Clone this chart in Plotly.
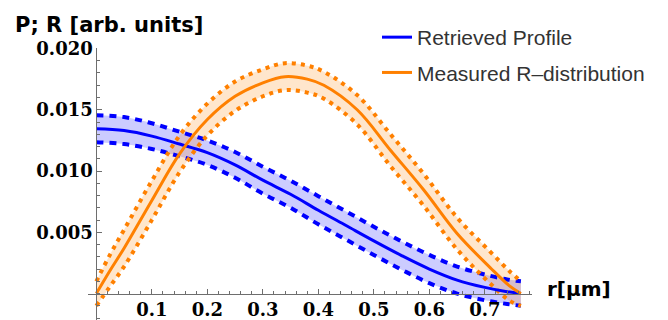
import plotly.graph_objects as go

# ---- data ----
r_blue = [0.0, 0.05, 0.10, 0.15, 0.20, 0.25, 0.30, 0.35, 0.40, 0.45, 0.50, 0.55, 0.60, 0.65, 0.70, 0.74, 0.765]
p_blue = [0.01345, 0.01330, 0.01285, 0.01220, 0.01150, 0.01050, 0.00925, 0.00810, 0.00680, 0.00555,
          0.00430, 0.00310, 0.00200, 0.00110, 0.00050, 0.00015, 0.0]
e_blue = [0.00110, 0.00110, 0.00105, 0.00100, 0.00100, 0.00105, 0.00110, 0.00110, 0.00115, 0.00115,
          0.00115, 0.00115, 0.00115, 0.00110, 0.00105, 0.00100, 0.00100]

r_orange = [0.0, 0.025, 0.05, 0.10, 0.15, 0.20, 0.25, 0.30, 0.34, 0.38, 0.41, 0.47, 0.53, 0.59, 0.65, 0.71, 0.745, 0.765]
p_orange = [0.0, 0.0019, 0.0037, 0.0076, 0.0114, 0.0142, 0.0161, 0.0172, 0.0177, 0.0175, 0.0170, 0.0150,
            0.0117, 0.00845, 0.0049, 0.0021, 0.0006, 0.0]
e_orange = [0.0010, 0.0013, 0.0015, 0.0016, 0.0015, 0.0013, 0.0012, 0.0011, 0.0011, 0.0011, 0.0011, 0.0012,
            0.0013, 0.0013, 0.0013, 0.0013, 0.0012, 0.0010]

x_ticks = [0.1, 0.2, 0.3, 0.4, 0.5, 0.6, 0.7]
x_tick_text = ["0.1", "0.2", "0.3", "0.4", "0.5", "0.6", "0.7"]
y_ticks = [0.005, 0.010, 0.015, 0.020]
y_tick_text = ["0.005", "0.010", "0.015", "0.020"]

series_names = ["Retrieved Profile", "Measured R\u2013distribution"]

BLUE = "rgb(0,0,255)"
ORANGE = "rgb(255,128,0)"
BLUE_FILL = "rgba(0,0,255,0.2)"
ORANGE_FILL = "rgba(255,128,0,0.2)"

fig = go.Figure()

def add_band(r, p, e, fill_col):
    lo = [a - b for a, b in zip(p, e)]
    hi = [a + b for a, b in zip(p, e)]
    fig.add_trace(go.Scatter(x=r, y=lo, mode="lines", line=dict(width=0, shape="spline"),
                             showlegend=False, hoverinfo="skip"))
    fig.add_trace(go.Scatter(x=r, y=hi, mode="lines", line=dict(width=0, shape="spline"),
                             fill="tonexty", fillcolor=fill_col, showlegend=False, hoverinfo="skip"))
    return lo, hi

lo_b, hi_b = add_band(r_blue, p_blue, e_blue, BLUE_FILL)
lo_o, hi_o = add_band(r_orange, p_orange, e_orange, ORANGE_FILL)

for yy in (lo_b, hi_b):
    fig.add_trace(go.Scatter(x=r_blue, y=yy, mode="lines",
                             line=dict(color=BLUE, width=4, dash="7px,6px", shape="spline"),
                             showlegend=False, hoverinfo="skip"))
for yy in (lo_o, hi_o):
    fig.add_trace(go.Scatter(x=r_orange, y=yy, mode="lines",
                             line=dict(color=ORANGE, width=4, dash="4px,5px", shape="spline"),
                             showlegend=False, hoverinfo="skip"))

fig.add_trace(go.Scatter(x=r_blue, y=p_blue, mode="lines", name=series_names[0],
                         line=dict(color=BLUE, width=3, shape="spline"), legendgroup="a"))
fig.add_trace(go.Scatter(x=r_orange, y=p_orange, mode="lines", name=series_names[1],
                         line=dict(color=ORANGE, width=3, shape="spline"), legendgroup="b"))

AX = "#6e6e6e"
tickfont = dict(family="DejaVu Serif", size=18, color="black", weight="bold")

ymin, ymax = -0.00216, 0.02004
xmin, xmax = -0.015, 0.785

fig.update_layout(
    width=668, height=320,
    margin=dict(l=88, r=136, t=48, b=0, autoexpand=False),
    paper_bgcolor="white", plot_bgcolor="white",
    showlegend=True,
    legend=dict(xref="container", yref="container", x=377 / 668, y=1 - 17 / 320,
                xanchor="left", yanchor="top",
                font=dict(family="Liberation Sans", size=21, color="#333333"),
                tracegroupgap=5, bgcolor="rgba(0,0,0,0)"),
    xaxis=dict(range=[xmin, xmax], anchor="free", position=(0 - ymin) / (ymax - ymin),
               showgrid=False, zeroline=False, showline=True, linecolor=AX, linewidth=1,
               tickmode="array", tickvals=x_ticks, ticktext=x_tick_text,
               ticks="inside", ticklen=5, tickcolor=AX, tickwidth=1, tickfont=tickfont,
               minor=dict(ticks="inside", tickmode="linear", tick0=0, dtick=0.02,
                          ticklen=2.5, tickcolor=AX, tickwidth=1, showgrid=False)),
    yaxis=dict(range=[ymin, ymax], anchor="free", position=(0 - xmin) / (xmax - xmin),
               showgrid=False, zeroline=False, showline=True, linecolor=AX, linewidth=1,
               tickmode="array", tickvals=y_ticks, ticktext=y_tick_text,
               ticks="inside", ticklen=5, tickcolor=AX, tickwidth=1, tickfont=tickfont,
               minor=dict(ticks="inside", tickmode="linear", tick0=0, dtick=0.001,
                          ticklen=2.5, tickcolor=AX, tickwidth=1, showgrid=False)),
    annotations=[
        dict(text="P; R [arb. units]", xref="paper", yref="paper",
             x=(13 - 88) / 444, y=(320 - 25) / 272, xanchor="left", yanchor="middle",
             showarrow=False, font=dict(family="DejaVu Sans", size=21, color="black", weight="bold")),
        dict(text="r[\u03bcm]", xref="paper", yref="paper",
             x=(545 - 88) / 444, y=(320 - 289) / 272, xanchor="left", yanchor="middle",
             showarrow=False, font=dict(family="DejaVu Sans", size=20, color="black", weight="bold")),
    ],
)

fig.write_html("out.html")
